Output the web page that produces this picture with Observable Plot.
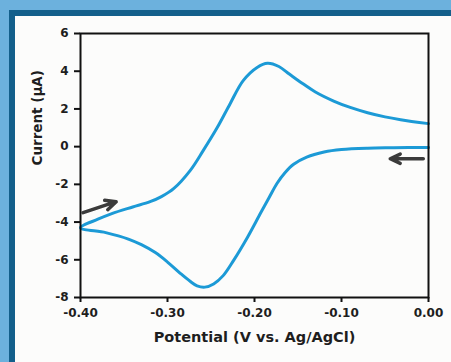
<!DOCTYPE html>
<html>
<head>
<meta charset="utf-8">
<script src="https://cdn.jsdelivr.net/npm/d3@7"></script>
<script src="https://cdn.jsdelivr.net/npm/@observablehq/plot@0.6"></script>
<style>
  html, body { margin: 0; padding: 0; overflow: hidden; }
  body { width: 451px; height: 362px; background: #6cb1dd; position: relative; }
  #panel { position: absolute; left: 9px; top: 10px; width: 436px; height: 346px;
           background: #fcfcfb; border-left: 6px solid #135f8b; border-top: 6px solid #135f8b; }
  #chart { position: absolute; left: 0; top: 0; width: 451px; height: 362px; }
  #chart svg { background: transparent; }
</style>
</head>
<body>
<div id="panel"></div>
<div id="chart"></div>
<script>
// Forward (cathodic) sweep: 0.00 V -> -0.40 V
const fwdPotential = [0.000, -0.040, -0.070, -0.100, -0.120, -0.140, -0.155, -0.165, -0.174, -0.183, -0.193, -0.208, -0.224, -0.236, -0.247, -0.257, -0.266, -0.274, -0.285, -0.300, -0.314, -0.330, -0.345, -0.371, -0.400];
const fwdCurrent   = [-0.04, -0.06, -0.08, -0.15, -0.28, -0.55, -0.93, -1.38, -1.94, -2.68, -3.52, -4.80, -6.03, -6.84, -7.28, -7.45, -7.38, -7.14, -6.73, -6.12, -5.62, -5.20, -4.90, -4.56, -4.30];
// Reverse (anodic) sweep: -0.40 V -> 0.00 V
const revPotential = [-0.400, -0.380, -0.364, -0.340, -0.320, -0.307, -0.293, -0.274, -0.259, -0.243, -0.228, -0.213, -0.197, -0.185, -0.172, -0.160, -0.147, -0.130, -0.109, -0.090, -0.070, -0.050, -0.032, 0.000];
const revCurrent   = [-4.30, -3.85, -3.55, -3.20, -2.92, -2.65, -2.23, -1.27, -0.21, 1.00, 2.28, 3.50, 4.20, 4.42, 4.25, 3.85, 3.42, 2.90, 2.42, 2.08, 1.80, 1.58, 1.43, 1.22];

// Scan-direction arrows
const arrowX1 = [-0.397, -0.006];
const arrowY1 = [-3.50, -0.64];
const arrowX2 = [-0.359, -0.044];
const arrowY2 = [-2.92, -0.64];

const xTicks = [-0.40, -0.30, -0.20, -0.10, 0.00];
const yTicks = [-8, -6, -4, -2, 0, 2, 4, 6];
const xLabel = "Potential (V vs. Ag/AgCl)";
const yLabel = "Current (µA)";

const scan = [
  ...fwdPotential.map((p, i) => ({p, c: fwdCurrent[i]})),
  ...revPotential.slice(1).map((p, i) => ({p, c: revCurrent[i + 1]}))
];
const arrows = arrowX1.map((x1, i) => ({x1, y1: arrowY1[i], x2: arrowX2[i], y2: arrowY2[i]}));

const font = "'DejaVu Sans', sans-serif";

const plot = Plot.plot({
  width: 451,
  height: 362,
  marginLeft: 80,
  marginRight: 23,
  marginTop: 33,
  marginBottom: 65,
  style: { background: "transparent", fontFamily: font, color: "#1e1e1e" },
  x: { domain: [-0.4, 0], label: null },
  y: { domain: [-8, 6], label: null },
  marks: [
    Plot.line(scan, { x: "p", y: "c", stroke: "#1c9ad6", strokeWidth: 3, curve: "catmull-rom" }),
    Plot.arrow(arrows, { x1: "x1", y1: "y1", x2: "x2", y2: "y2", stroke: "#3b3b3b", strokeWidth: 3.5, headLength: 7, headAngle: 50 }),
    Plot.frame({ stroke: "#111", strokeWidth: 2 }),
    Plot.axisX({ ticks: xTicks, tickSize: 5, tickPadding: 6, tickFormat: d => d.toFixed(2),
                 stroke: "#111", strokeWidth: 2, fontSize: 12, fontWeight: "bold", label: null }),
    Plot.axisY({ ticks: yTicks, tickSize: 6, tickPadding: 6, tickFormat: d => String(d),
                 stroke: "#111", strokeWidth: 2, fontSize: 12, fontWeight: "bold", label: null }),
    Plot.text([xLabel], { text: d => d, frameAnchor: "bottom", dy: 44, fontSize: 14.5, fontWeight: "bold" }),
    Plot.text([yLabel], { text: d => d, frameAnchor: "left", dx: -43, rotate: -90, fontSize: 13.5, fontWeight: "bold" })
  ]
});
document.getElementById("chart").appendChild(plot);
</script>
</body>
</html>
